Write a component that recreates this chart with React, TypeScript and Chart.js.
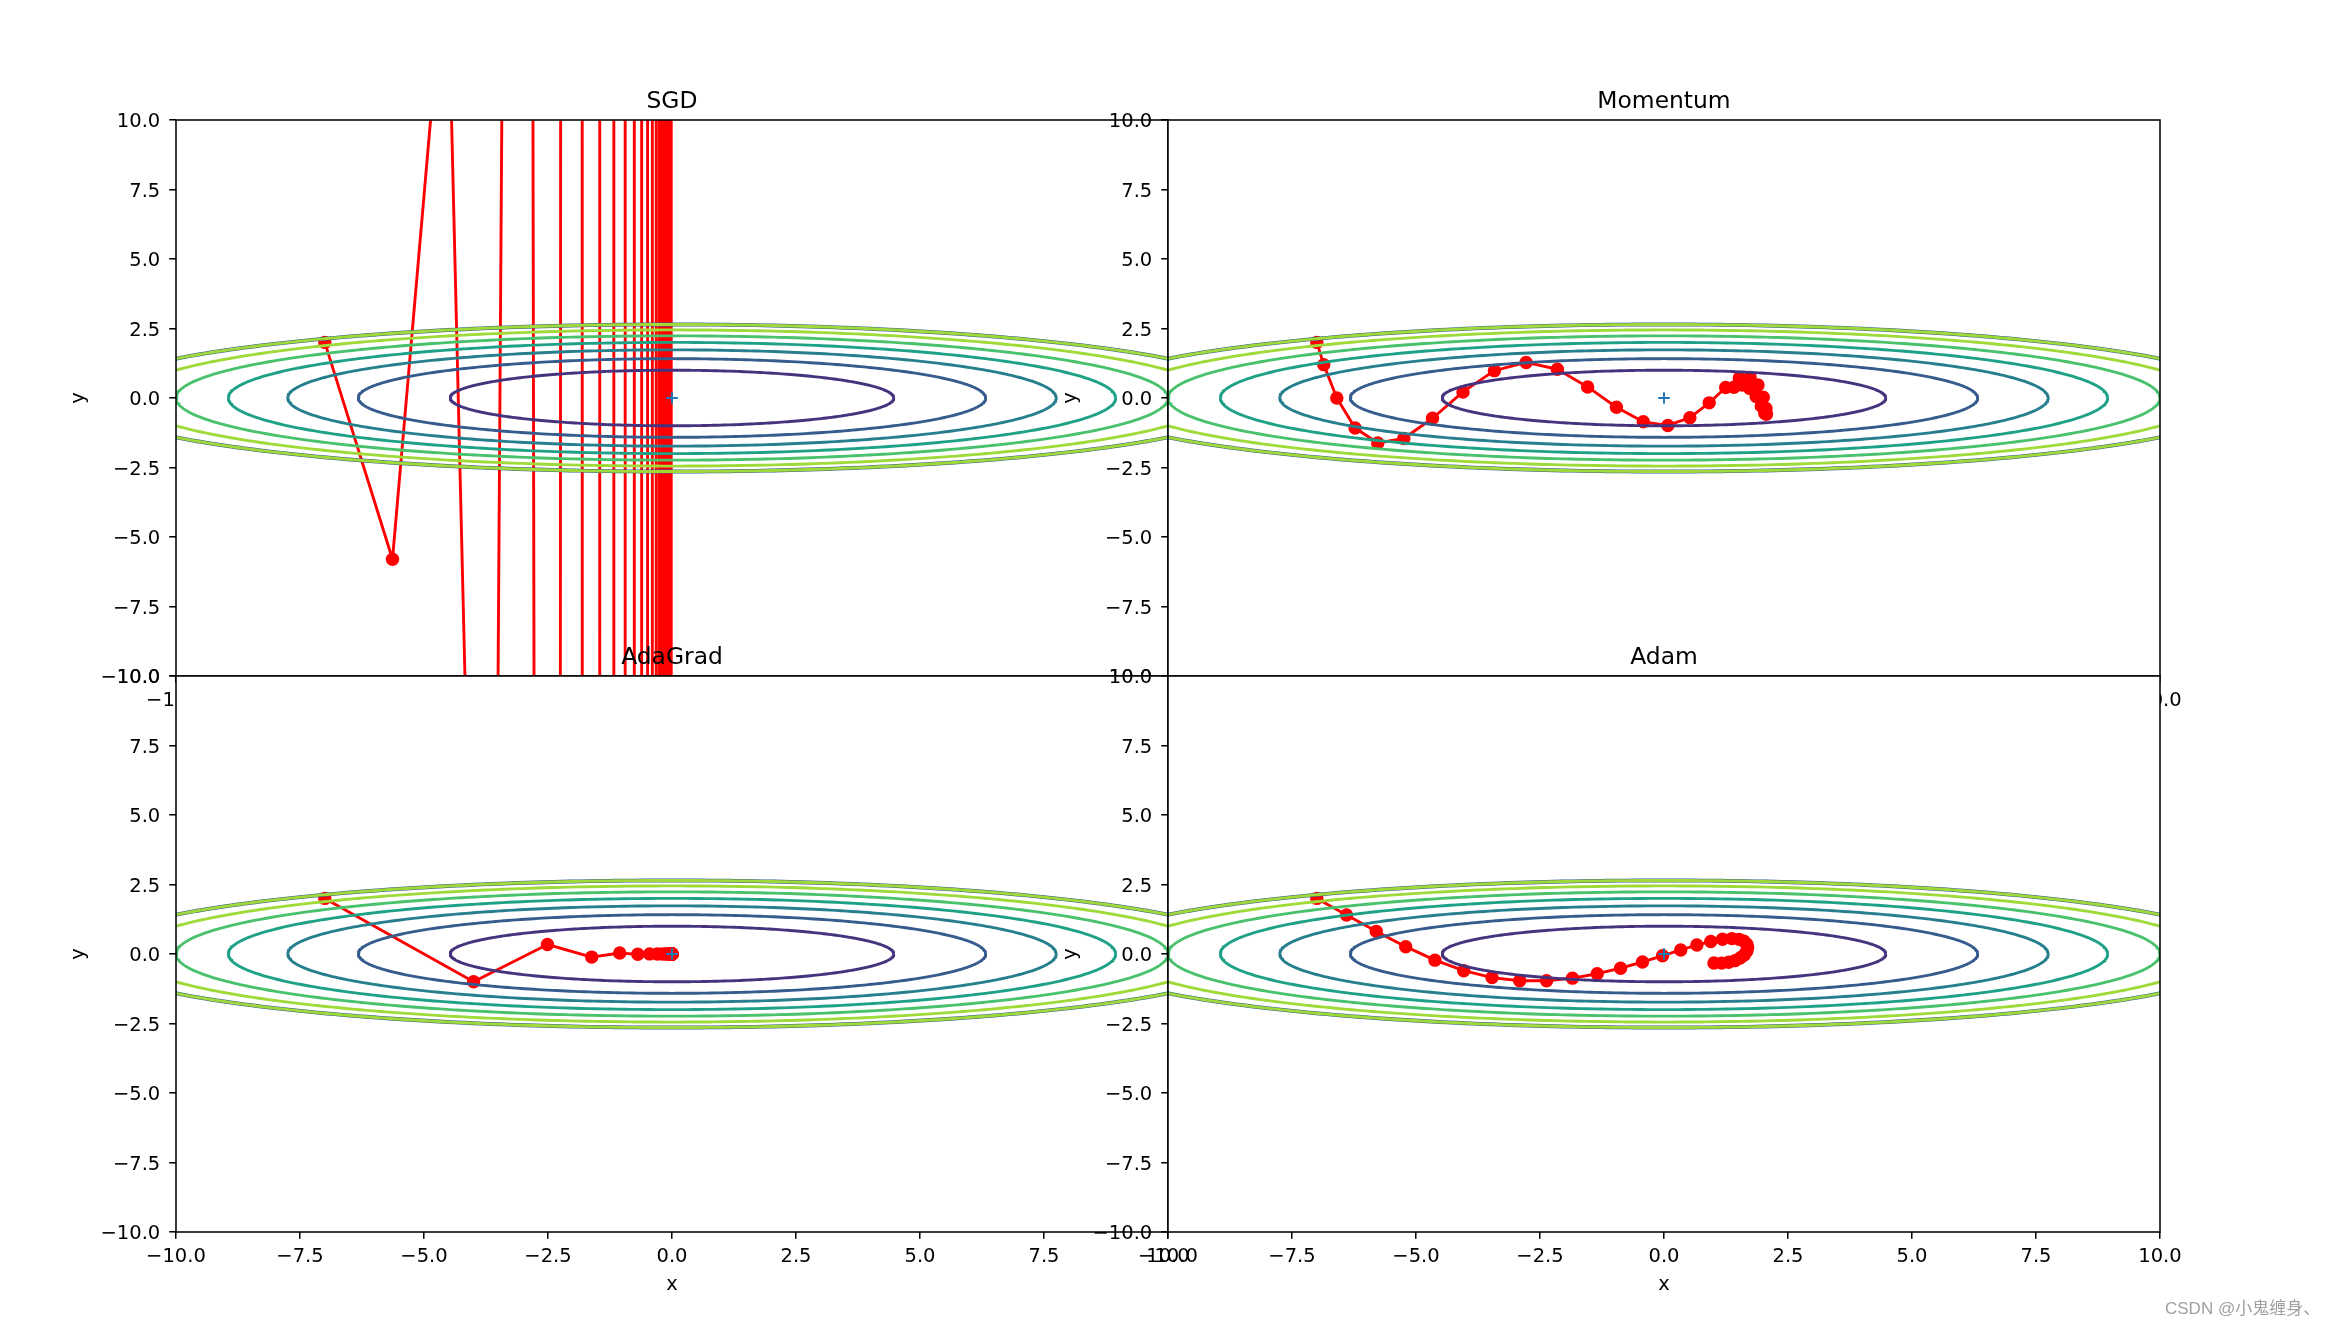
import React, { useEffect, useRef } from "react";
import { Chart, registerables } from "chart.js";

Chart.register(...registerables);

// ---------------- data ----------------
const TITLES = ["SGD", "Momentum", "AdaGrad", "Adam"];
const X_LABEL = "x";
const Y_LABEL = "y";
const AXIS_TICKS = [-10, -7.5, -5, -2.5, 0, 2.5, 5, 7.5, 10];
const MINIMUM_X = [0];
const MINIMUM_Y = [0];
// contour levels of f(x, y) = x^2/20 + y^2 (values above MASK_LEVEL were set to 0)
const CONTOUR_LEVELS = [1, 2, 3, 4, 5, 6];
const MASK_LEVEL = 7;
const LEVEL_COLORS = ["#46337E", "#365C8D", "#277F8E", "#1FA187", "#4AC16D", "#9FDA3A"];

const SGD_X = [-7, -5.635, -4.5362, -3.6516, -2.9396, -2.3663, -1.9049, -1.5335, -1.2344, -0.99371,
  -0.79994, -0.64395, -0.51838, -0.4173, -0.33592, -0.27042, -0.21769, -0.17524, -0.14107, -0.11356,
  -0.091414, -0.073588, -0.059238, -0.047687, -0.038388, -0.030902, -0.024876, -0.020025, -0.01612, -0.012977];
const SGD_Y = [2, -5.8, 16.82, -48.778, 141.456, -410.22, 1189.65, -3449.98, 10004.9, -29014.3,
  84141.5, -244010, 707630, -2052128, 5951170, -17258392, 50049338, -145143082, 420914938, -1220653320,
  3539894628, -10265694422, 29770513824, -86334490090, 250370021261, -726073061656, 2105611878804,
  -6106274448532, 17708195900743, -51353768112154];

const MOMENTUM_X = [-7, -6.86, -6.5968, -6.228, -5.7715, -5.2452, -4.6667, -4.0526, -3.419, -2.7803,
  -2.1498, -1.5395, -0.9593, -0.418, 0.0775, 0.5219, 0.9115, 1.2439, 1.5181, 1.7346,
  1.8947, 2.0009, 2.0565, 2.0654, 2.0321, 1.9615, 1.8587, 1.729, 1.5777, 1.41];
const MOMENTUM_Y = [2, 1.2, 0, -1.08, -1.62, -1.458, -0.729, 0.2187, 0.9842, 1.2794,
  1.0334, 0.3986, -0.3322, -0.8569, -0.9865, -0.7085, -0.1749, 0.3753, 0.7204, 0.7428,
  0.4658, 0.0302, -0.3739, -0.588, -0.5456, -0.2891, 0.0573, 0.3462, 0.4677, 0.39];

const ADAGRAD_X = [-7, -4, -2.5116, -1.6193, -1.0543, -0.6892, -0.4513, -0.2957, -0.1938, -0.127,
  -0.0833, -0.0546, -0.0358, -0.0235, -0.0154, -0.0101, -0.0066, -0.0043, -0.0028, -0.0019,
  -0.0012, -0.0008, -0.0005, -0.0003, -0.0002, -0.0001, -0.0001, -0.0001, 0, 0];
const ADAGRAD_Y = [2, -1, 0.3416, -0.1115, 0.0362, -0.0117, 0.0038, -0.0012, 0.0004, -0.0001,
  0, 0, 0, 0, 0, 0, 0, 0, 0, 0,
  0, 0, 0, 0, 0, 0, 0, 0, 0, 0];

const ADAM_X = [-7, -6.4, -5.802, -5.2076, -4.6188, -4.0377, -3.4667, -2.9088, -2.3671, -1.845,
  -1.3463, -0.8749, -0.4346, -0.0294, 0.3372, 0.6623, 0.9435, 1.1792, 1.3689, 1.5129,
  1.6125, 1.6696, 1.6871, 1.6681, 1.6162, 1.5355, 1.43, 1.304, 1.1617, 1.0073];
const ADAM_Y = [2, 1.4, 0.8146, 0.2639, -0.2204, -0.6004, -0.8488, -0.963, -0.961, -0.8686,
  -0.7107, -0.5101, -0.2877, -0.063, 0.1454, 0.3211, 0.4515, 0.5294, 0.5532, 0.5265,
  0.4569, 0.3544, 0.2305, 0.0976, -0.0321, -0.1473, -0.2387, -0.2998, -0.3273, -0.3216];

const WATERMARK = "CSDN @小鬼缠身、";

// ---------------- layout / style ----------------
const W = 2338;
const H = 1327;
const FRAME_X = [176, 1168, 2160];
const FRAME_Y = [120, 676, 1232];
const PT = 1.92;
const FONT = '"DejaVu Sans", sans-serif';
const TICK_SIZE = 19.5;
const TITLE_SIZE = 23.4;
const Y_AXIS_BOX = 100;
const X_AXIS_BOX = 60;

Chart.defaults.font.family = FONT;

type Pt = { x: number; y: number };

const PANELS = [
  { title: TITLES[0], xs: SGD_X, ys: SGD_Y, col: 0, row: 0, raw: true },
  { title: TITLES[1], xs: MOMENTUM_X, ys: MOMENTUM_Y, col: 1, row: 0, raw: false },
  { title: TITLES[2], xs: ADAGRAD_X, ys: ADAGRAD_Y, col: 0, row: 1, raw: false },
  { title: TITLES[3], xs: ADAM_X, ys: ADAM_Y, col: 1, row: 1, raw: false },
];

function contourPoints(level: number): Pt[] {
  const n = 400;
  const pts: Pt[] = [];
  for (let i = 0; i <= n; i++) {
    const t = (i / n) * Math.PI * 2;
    pts.push({ x: Math.sqrt(20 * level) * Math.cos(t), y: Math.sqrt(level) * Math.sin(t) });
  }
  return pts;
}

function pair(xs: number[], ys: number[]): Pt[] {
  return xs.map((x, i) => ({ x, y: ys[i] }));
}

const fmtTick = (v: number) => v.toFixed(1).replace("-", "\u2212");

// fraction of the scale's range (same mapping as the scale, without the int16 pixel clamp)
function decimalOf(scale: any, v: number) {
  return (v - scale.min) / (scale.max - scale.min);
}

function drawRawPath(chart: any, ds: any) {
  const { ctx, chartArea: a, scales } = chart;
  const w = a.right - a.left;
  const h = a.bottom - a.top;
  const pts = ds.data.map((p: Pt) => [
    a.left + decimalOf(scales.x, p.x) * w,
    a.bottom - decimalOf(scales.y, p.y) * h,
  ]);
  const lo = a.top - 30;
  const hi = a.bottom + 30;
  ctx.save();
  ctx.beginPath();
  ctx.rect(a.left, a.top, w, h);
  ctx.clip();
  ctx.beginPath();
  let penAt: number | null = null;
  for (let i = 0; i < pts.length - 1; i++) {
    const [x0, y0] = pts[i];
    const [x1, y1] = pts[i + 1];
    const dy = y1 - y0;
    let t0 = 0;
    let t1 = 1;
    if (dy === 0) {
      if (y0 < lo || y0 > hi) { penAt = null; continue; }
    } else {
      let ta = (lo - y0) / dy;
      let tb = (hi - y0) / dy;
      if (ta > tb) { const tmp = ta; ta = tb; tb = tmp; }
      t0 = Math.max(0, ta);
      t1 = Math.min(1, tb);
      if (t0 >= t1) { penAt = null; continue; }
    }
    const sx = x0 + (x1 - x0) * t0;
    const sy = y0 + dy * t0;
    const ex = x0 + (x1 - x0) * t1;
    const ey = y0 + dy * t1;
    if (!(t0 === 0 && penAt === i)) ctx.moveTo(sx, sy);
    ctx.lineTo(ex, ey);
    penAt = t1 === 1 ? i + 1 : null;
  }
  ctx.lineWidth = ds.borderWidth;
  ctx.strokeStyle = ds.borderColor;
  ctx.lineJoin = "round";
  ctx.lineCap = "butt";
  ctx.stroke();
  ctx.restore();
}

const panelPlugin = {
  id: "panelDecor",
  beforeDraw(chart: any) {
    const { ctx, chartArea: a } = chart;
    ctx.save();
    ctx.fillStyle = "#ffffff";
    ctx.fillRect(a.left, a.top, a.right - a.left, a.bottom - a.top);
    ctx.restore();
  },
  beforeDatasetsDraw(chart: any) {
    chart.data.datasets.forEach((ds: any) => {
      if (ds.rawLine) drawRawPath(chart, ds);
    });
  },
  afterDatasetsDraw(chart: any) {
    const { ctx, chartArea: a } = chart;
    ctx.save();
    ctx.strokeStyle = "#000";
    ctx.lineWidth = 0.8 * PT;
    ctx.strokeRect(a.left, a.top, a.right - a.left, a.bottom - a.top);
    ctx.restore();
  },
  afterDraw(chart: any, _args: any, opts: any) {
    const { ctx, chartArea: a } = chart;
    const cx = (a.left + a.right) / 2;
    const cy = (a.top + a.bottom) / 2;
    ctx.save();
    ctx.fillStyle = "#000";
    ctx.textAlign = "center";
    ctx.textBaseline = "alphabetic";
    ctx.font = `${TITLE_SIZE}px ${FONT}`;
    ctx.fillText(opts.title, cx, a.top - 6 * PT);
    ctx.font = `${TICK_SIZE}px ${FONT}`;
    ctx.fillText(X_LABEL, cx, a.bottom + 58);
    ctx.translate(a.left - 92, cy);
    ctx.rotate(-Math.PI / 2);
    ctx.fillText(Y_LABEL, 0, 0);
    ctx.restore();
  },
};

function buildConfig(p: any): any {
  const left = FRAME_X[p.col];
  const right = FRAME_X[p.col + 1];
  const top = FRAME_Y[p.row];
  const bottom = FRAME_Y[p.row + 1];

  const lineBase = { showLine: true, pointRadius: 0, order: 1, clip: 0, borderJoinStyle: "round" };
  const contours: any[] = CONTOUR_LEVELS.map((lv, i) => ({
    ...lineBase,
    data: contourPoints(lv),
    borderColor: LEVEL_COLORS[i],
    borderWidth: 1.5 * PT,
  }));
  // mask edge: all levels bundle together; the last level drawn sits on top
  contours.push({ ...lineBase, data: contourPoints(MASK_LEVEL), borderColor: LEVEL_COLORS[5], borderWidth: 1.5 * PT });
  contours.push({ ...lineBase, data: contourPoints(MASK_LEVEL), borderColor: LEVEL_COLORS[1], borderWidth: 1.5 * PT + 1 });

  const minimum = {
    data: pair(MINIMUM_X, MINIMUM_Y),
    showLine: false,
    pointStyle: "cross",
    pointRadius: 3 * PT,
    pointBorderWidth: 1 * PT,
    pointBorderColor: "#1f77b4",
    pointBackgroundColor: "#1f77b4",
    order: 0,
    clip: 0,
  };

  const path = {
    data: pair(p.xs, p.ys),
    showLine: !p.raw,
    rawLine: p.raw,
    borderColor: "#ff0000",
    backgroundColor: "#ff0000",
    pointBackgroundColor: "#ff0000",
    pointBorderColor: "#ff0000",
    pointRadius: 3 * PT,
    pointBorderWidth: 1 * PT,
    borderWidth: 1.5 * PT,
    borderJoinStyle: "round",
    order: 2,
    clip: 0,
  };

  const tickFont = { family: FONT, size: TICK_SIZE };
  const grid = {
    display: true,
    drawOnChartArea: false,
    drawTicks: true,
    tickLength: 3.5 * PT,
    tickWidth: 0.8 * PT,
    tickColor: "#000",
    color: "#000",
    lineWidth: 0.8 * PT,
  };
  const setTicks = (s: any) => {
    s.ticks = AXIS_TICKS.map((value) => ({ value }));
  };

  return {
    type: "scatter",
    data: { datasets: [minimum, ...contours, path] },
    options: {
      animation: false,
      responsive: false,
      devicePixelRatio: 1,
      events: [],
      layout: {
        padding: { left: left - Y_AXIS_BOX, right: W - right, top, bottom: H - bottom - X_AXIS_BOX },
      },
      plugins: {
        legend: { display: false },
        tooltip: { enabled: false },
        title: { display: false },
        panelDecor: { title: p.title },
      },
      scales: {
        x: {
          type: "linear",
          position: "bottom",
          min: -10,
          max: 10,
          afterBuildTicks: setTicks,
          afterFit: (s: any) => { s.height = X_AXIS_BOX; },
          ticks: { callback: (v: any) => fmtTick(Number(v)), font: tickFont, color: "#000", padding: 7, maxRotation: 0, minRotation: 0, autoSkip: false },
          grid,
          border: { display: false },
        },
        y: {
          type: "linear",
          position: "left",
          min: -10,
          max: 10,
          afterBuildTicks: setTicks,
          afterFit: (s: any) => { s.width = Y_AXIS_BOX; },
          ticks: { callback: (v: any) => fmtTick(Number(v)), font: tickFont, color: "#000", padding: 9, labelOffset: 2, autoSkip: false },
          grid,
          border: { display: false },
        },
      },
    },
    plugins: [panelPlugin],
  };
}

function Panel({ panel }: { panel: any }) {
  const ref = useRef<HTMLCanvasElement | null>(null);
  useEffect(() => {
    if (!ref.current) return;
    const chart = new Chart(ref.current, buildConfig(panel));
    return () => chart.destroy();
  }, [panel]);
  return (
    <canvas
      ref={ref}
      width={W}
      height={H}
      style={{ position: "absolute", left: 0, top: 0, width: W, height: H }}
    />
  );
}

export default function App() {
  return (
    <div style={{ position: "absolute", left: 0, top: 0, width: W, height: H, background: "#fff", overflow: "hidden" }}>
      {PANELS.map((p) => (
        <Panel key={p.title} panel={p} />
      ))}
      <div
        style={{
          position: "absolute",
          left: 2165,
          top: 1300,
          font: '17px "Liberation Sans", "Noto Sans CJK SC", sans-serif',
          lineHeight: 1,
          color: "#a0a0a0",
          whiteSpace: "nowrap",
        }}
      >
        {WATERMARK}
      </div>
    </div>
  );
}
